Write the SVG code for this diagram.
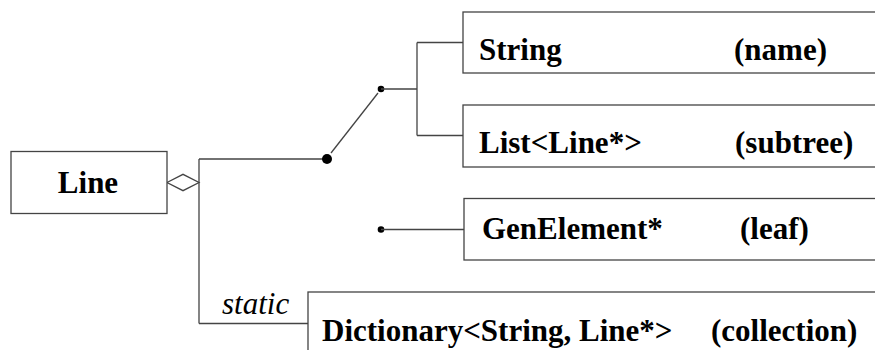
<svg xmlns="http://www.w3.org/2000/svg" width="875" height="350" viewBox="0 0 875 350">
  <style>
    .box { fill: #ffffff; stroke: #444444; stroke-width: 1.3; }
    .lbl { font-family: 'Liberation Serif', 'Times New Roman', Times, serif; font-size: 31px; font-weight: bold; fill: #000000; }
    .note { font-family: 'Liberation Serif', 'Times New Roman', Times, serif; font-size: 31px; font-style: italic; fill: #000000; }
    .wire { fill: none; stroke: #444444; stroke-width: 1.3; }
    .dot { fill: #000000; }
  </style>
  <rect width="875" height="350" fill="#ffffff"/>

  <g id="connectors">
    <!-- aggregation diamond on Line -->
    <polygon class="wire" points="167,182.5 183,174.3 199,182.5 183,190.7" fill="#ffffff"/>
    <path class="wire" d="M199,159 V323.5 M199,159 H327 M199,323.5 H308"/>
    <!-- union switch -->
    <circle class="dot" cx="327" cy="159" r="5"/>
    <path class="wire" d="M331,153 L378,93" stroke-width="1"/>
    <circle class="dot" cx="381" cy="89" r="3.3"/>
    <path class="wire" d="M381,89 H417 M417,42.5 V135.5 M417,42.5 H463 M417,135.5 H463"/>
    <!-- leaf branch -->
    <circle class="dot" cx="381" cy="229.5" r="3.3"/>
    <path class="wire" d="M381,229.5 H464"/>
  </g>

  <g id="node-line">
    <rect class="box" x="11" y="151.5" width="156" height="62"/>
    <text class="lbl" x="88" y="193" text-anchor="middle">Line</text>
  </g>

  <g id="node-string">
    <rect class="box" x="463" y="12" width="430" height="61"/>
    <text class="lbl" x="479" y="60">String</text>
    <text class="lbl" x="734" y="60">(name)</text>
  </g>

  <g id="node-list">
    <rect class="box" x="463" y="105" width="430" height="62"/>
    <text class="lbl" x="479" y="153">List&lt;Line*&gt;</text>
    <text class="lbl" x="735" y="153">(subtree)</text>
  </g>

  <g id="node-genelement">
    <rect class="box" x="464" y="198.5" width="430" height="61.5"/>
    <text class="lbl" x="482" y="239">GenElement*</text>
    <text class="lbl" x="740" y="239">(leaf)</text>
  </g>

  <g id="node-dictionary">
    <rect class="box" x="308" y="292" width="590" height="80"/>
    <text class="lbl" x="322" y="341">Dictionary&lt;String, Line*&gt;</text>
    <text class="lbl" x="711" y="341">(collection)</text>
    <text class="note" x="222" y="314">static</text>
  </g>
</svg>
